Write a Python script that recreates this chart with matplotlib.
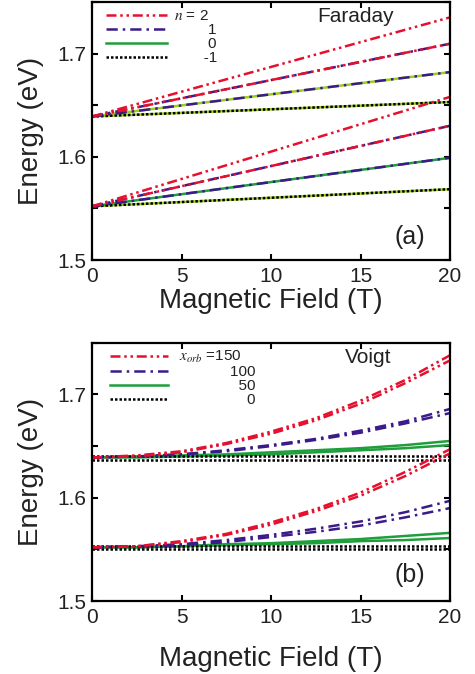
import matplotlib
matplotlib.use("Agg")
import matplotlib.pyplot as plt
from matplotlib.ticker import MultipleLocator

plt.rcParams['font.family'] = ['Liberation Sans', 'DejaVu Sans']
plt.rcParams['mathtext.fontset'] = 'stix'

# ---- data ----
# (a) Faraday: straight lines, values at B = 0 and 20 T
b_far = [0, 20]
far_red = [[1.639, 1.735], [1.639, 1.7095], [1.552, 1.658], [1.552, 1.630]]
far_purple = [[1.639, 1.7095], [1.639, 1.682], [1.552, 1.630], [1.552, 1.599]]
far_green = [[1.552, 1.599]]
far_ygreen = [[1.639, 1.682], [1.639, 1.653], [1.552, 1.5686]]
far_black = [[1.639, 1.653], [1.552, 1.5686]]

# (b) Voigt: curves, values every 2.5 T
b_voi = [0, 2.5, 5, 7.5, 10, 12.5, 15, 17.5, 20]
voi_red = [
    [1.639, 1.641, 1.645, 1.653, 1.664, 1.677, 1.694, 1.714, 1.738],
    [1.639, 1.640, 1.644, 1.652, 1.662, 1.675, 1.691, 1.711, 1.733],
    [1.552, 1.553, 1.558, 1.565, 1.576, 1.589, 1.605, 1.625, 1.647],
    [1.552, 1.553, 1.557, 1.564, 1.574, 1.587, 1.602, 1.621, 1.643],
]
voi_purple = [
    [1.639, 1.640, 1.642, 1.646, 1.651, 1.657, 1.665, 1.674, 1.686],
    [1.639, 1.640, 1.642, 1.645, 1.650, 1.656, 1.663, 1.672, 1.682],
    [1.552, 1.553, 1.555, 1.559, 1.564, 1.570, 1.577, 1.586, 1.597],
    [1.552, 1.553, 1.554, 1.557, 1.562, 1.567, 1.573, 1.581, 1.590],
]
voi_green = [
    [1.639, 1.640, 1.641, 1.642, 1.644, 1.646, 1.648, 1.651, 1.655],
    [1.639, 1.639, 1.640, 1.641, 1.642, 1.644, 1.646, 1.648, 1.651],
    [1.552, 1.552, 1.553, 1.555, 1.556, 1.558, 1.560, 1.563, 1.566],
    [1.552, 1.552, 1.553, 1.554, 1.555, 1.556, 1.558, 1.559, 1.561],
]
voi_black = [
    [1.640] * 9,
    [1.637] * 9,
    [1.553] * 9,
    [1.550] * 9,
]

far_labels = [r'$n$ = 2', '        1', '        0', '       -1']
voi_labels = [r'$x_{orb}$ =150', '            100', '              50', '                0']

RED = '#e5102e'
PURPLE = '#3b1a8a'
GREEN = '#1f9e3c'
YGREEN = '#9acd22'
LS_RED = (0, (4, 1.5, 1, 1.5, 1, 1.5))
LS_PUR = (0, (4.5, 2, 1, 2))
LS_BLK = (0, (1, 0.8))
LW = 1.8
TXT = '#222222'

fig = plt.figure(figsize=(4.75, 6.74), dpi=100)
ax1 = fig.add_axes([0.1937, 0.6142, 0.7537, 0.383])
ax2 = fig.add_axes([0.1937, 0.1083, 0.7537, 0.383])

# panel (a)
for y in far_ygreen:
    ax1.plot(b_far, y, color=YGREEN, lw=LW)
for y in far_green:
    ax1.plot(b_far, y, color=GREEN, lw=LW)
for y in far_black:
    ax1.plot(b_far, y, color='black', lw=LW, ls=LS_BLK)
for y in far_purple:
    ax1.plot(b_far, y, color=PURPLE, lw=LW, ls=LS_PUR)
for y in far_red:
    ax1.plot(b_far, y, color=RED, lw=LW, ls=LS_RED)

# panel (b)
for y in voi_green:
    ax2.plot(b_voi, y, color=GREEN, lw=LW)
for y in voi_black:
    ax2.plot(b_voi, y, color='black', lw=LW, ls=LS_BLK)
for y in voi_purple:
    ax2.plot(b_voi, y, color=PURPLE, lw=LW, ls=LS_PUR)
for y in voi_red:
    ax2.plot(b_voi, y, color=RED, lw=LW, ls=LS_RED)

for ax, labels, hl, htp, anchor in [
    (ax1, far_labels, 4.0, 0.4, (0.04, 0.972)),
    (ax2, voi_labels, 3.8, 0.7, (0.05, 0.975)),
]:
    handles = [
        plt.Line2D([], [], color=RED, lw=LW, ls=LS_RED),
        plt.Line2D([], [], color=PURPLE, lw=LW, ls=LS_PUR),
        plt.Line2D([], [], color=GREEN, lw=LW),
        plt.Line2D([], [], color='black', lw=LW, ls=LS_BLK),
    ]
    leg = ax.legend(handles, labels, loc='upper left', bbox_to_anchor=anchor,
                    frameon=False, fontsize=11, handlelength=hl, handletextpad=htp,
                    labelspacing=0.0, borderpad=0, borderaxespad=0)
    for t in leg.get_texts():
        t.set_color(TXT)
    ax.set_xlim(0, 20)
    ax.set_ylim(1.5, 1.75)
    ax.xaxis.set_major_locator(MultipleLocator(5))
    ax.yaxis.set_major_locator(MultipleLocator(0.1))
    ax.yaxis.set_minor_locator(MultipleLocator(0.05))
    ax.tick_params(which='both', direction='in', top=True, right=True,
                   length=4, width=1.5, labelsize=15, labelcolor=TXT)
    ax.tick_params(axis='x', pad=5)
    ax.tick_params(axis='y', pad=4)
    for s in ax.spines.values():
        s.set_linewidth(1.6)
    ax.set_xlabel('Magnetic Field (T)', fontsize=20, color=TXT)
    ax.set_ylabel('Energy (eV)', fontsize=20, color=TXT)
    ax.yaxis.set_label_coords(-0.135, 0.5)

ax1.xaxis.set_label_coords(0.5, -0.11)
ax2.xaxis.set_label_coords(0.5, -0.175)

ax1.text(0.737, 0.945, 'Faraday', transform=ax1.transAxes, fontsize=15,
         ha='center', va='center', color=TXT)
ax1.text(0.888, 0.088, '(a)', transform=ax1.transAxes, fontsize=18,
         ha='center', va='center', color=TXT)
ax2.text(0.771, 0.945, 'Voigt', transform=ax2.transAxes, fontsize=15,
         ha='center', va='center', color=TXT)
ax2.text(0.888, 0.10, '(b)', transform=ax2.transAxes, fontsize=18,
         ha='center', va='center', color=TXT)

fig.savefig('out.png', dpi=100)
